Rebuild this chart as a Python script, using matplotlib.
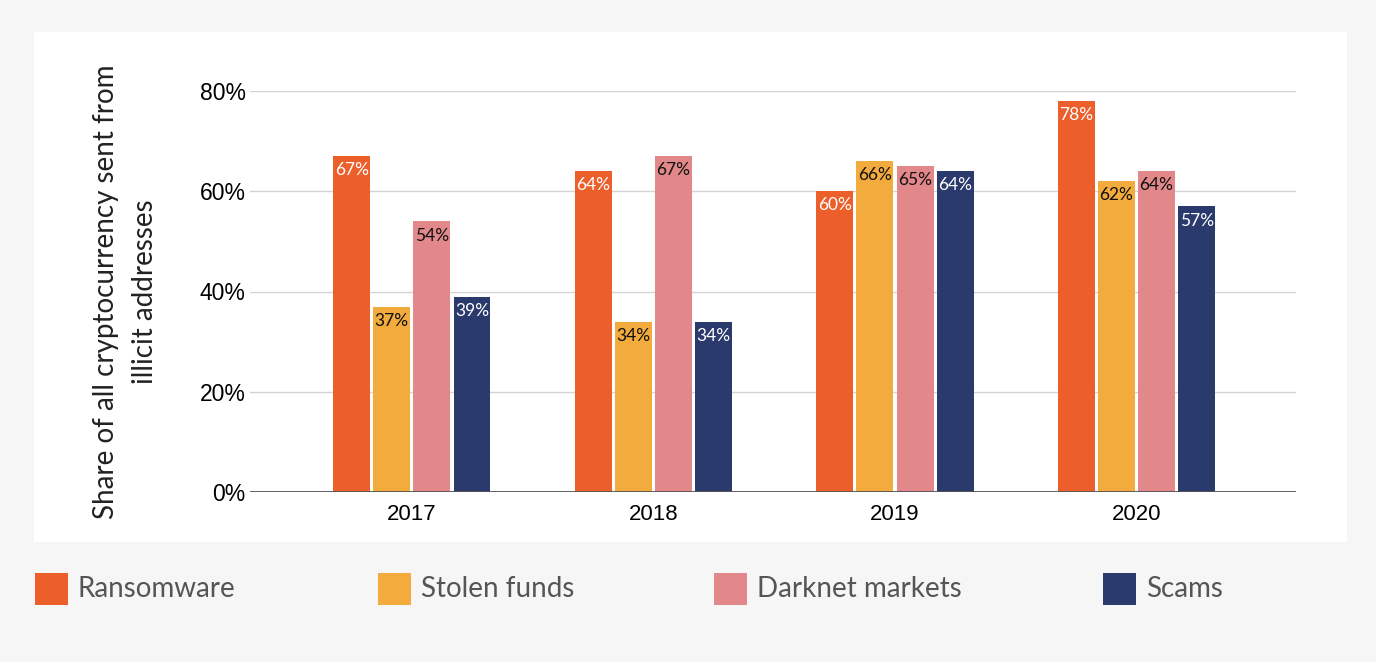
import numpy as np
import matplotlib
matplotlib.use("Agg")
import matplotlib.pyplot as plt
from matplotlib.patches import Rectangle

years = ["2017", "2018", "2019", "2020"]
series = ["Ransomware", "Stolen funds", "Darknet markets", "Scams"]
ransomware = [67, 64, 60, 78]
stolen_funds = [37, 34, 66, 62]
darknet_markets = [54, 67, 65, 64]
scams = [39, 34, 64, 57]
values = [ransomware, stolen_funds, darknet_markets, scams]
colors = ["#ec5f2b", "#f2ab3c", "#e2878a", "#2b3a6c"]
label_colors = ["white", "#111111", "#111111", "white"]
y_ticks = [0, 20, 40, 60, 80]

W, H = 1376, 662
fig = plt.figure(figsize=(W / 100, H / 100), dpi=100)
fig.patch.set_facecolor("#f6f6f6")

# white panel behind the chart
fig.patches.append(Rectangle((34 / W, 1 - 542 / H), (1347 - 34) / W, (542 - 32) / H,
                             transform=fig.transFigure, facecolor="white",
                             edgecolor="none", zorder=-5))

ax = fig.add_axes([250 / W, 1 - 492 / H, 1046 / W, 401 / H])
ax.set_zorder(2)
ax.set_facecolor("none")

x = np.arange(len(years))
width = 0.153
step = 0.166
for i, (name, vals) in enumerate(zip(series, values)):
    pos = x + (i - 1.5) * step
    bars = ax.bar(pos, vals, width=width, color=colors[i], zorder=3)
    for b, v in zip(bars, vals):
        ax.annotate(f"{v}%", (b.get_x() + b.get_width() / 2, v),
                    xytext=(0, -4.5), textcoords="offset points",
                    ha="center", va="top", fontsize=12.5, family="Lato",
                    color=label_colors[i], zorder=4)

ax.set_xlim(-0.67, 3.66)
ax.set_ylim(0, 80)
ax.set_yticks(y_ticks)
ax.set_yticklabels([f"{t}%" for t in y_ticks], family="Liberation Sans", fontsize=16.5)
ax.set_xticks(x)
ax.set_xticklabels(years, family="Liberation Sans", fontsize=16)
ax.tick_params(axis="both", length=0)
ax.tick_params(axis="y", pad=3)
ax.tick_params(axis="x", pad=9)
for t in y_ticks[1:]:
    ax.axhline(t, color="#d4d4d4", linewidth=1, zorder=1)
ax.axhline(0, color="#555555", linewidth=1.3, zorder=5)
for s in ax.spines.values():
    s.set_visible(False)

ax.set_ylabel("Share of all cryptocurrency sent from\nillicit addresses",
              family="Lato", fontsize=20, color="#222222", linespacing=1.6)
ax.yaxis.set_label_coords(-0.088, 0.5)

# legend along the bottom
legend_x = [35, 378, 714, 1103]
for lx, name, c in zip(legend_x, series, colors):
    fig.patches.append(Rectangle((lx / W, 1 - 605 / H), 33 / W, 32 / H,
                                 transform=fig.transFigure, facecolor=c,
                                 edgecolor="none"))
    fig.text((lx + 43) / W, 1 - 589 / H, name, family="Lato", fontsize=20,
             color="#555555", va="center", ha="left")

fig.savefig("out.png", dpi=100, facecolor=fig.get_facecolor())
